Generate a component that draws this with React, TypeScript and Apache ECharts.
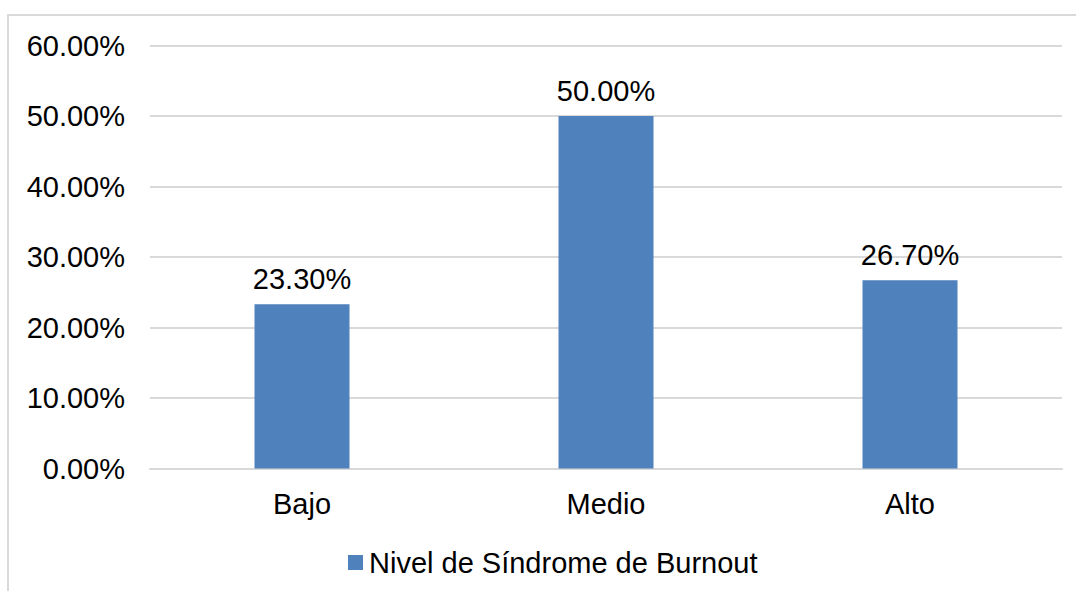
import React, { useEffect, useRef } from "react";
import * as echarts from "echarts";

const categories = ["Bajo", "Medio", "Alto"];
const values = [23.3, 50.0, 26.7];
const seriesName = "Nivel de Síndrome de Burnout";

const FONT = "'Liberation Sans', Arial, sans-serif";
const FONT_SIZE = 29;

export default function App() {
  const ref = useRef<HTMLDivElement>(null);

  useEffect(() => {
    document.body.style.margin = "0";
    if (!ref.current) return;
    const chart = echarts.init(ref.current, undefined, { renderer: "svg" });
    chart.setOption({
      animation: false,
      backgroundColor: "#ffffff",
      textStyle: { fontFamily: FONT },
      graphic: [
        {
          type: "rect",
          shape: { x: 8, y: 15, width: 1100, height: 600 },
          style: { fill: "none", stroke: "#d9d9d9", lineWidth: 2 },
          silent: true,
        },
      ],
      grid: { left: 150, right: 14, top: 45.5, bottom: 122.5, containLabel: false },
      legend: {
        data: [seriesName],
        left: 343,
        top: 543,
        icon: "rect",
        itemWidth: 15,
        itemHeight: 15,
        itemGap: 5,
        textStyle: { fontFamily: FONT, fontSize: FONT_SIZE, color: "#000", padding: [0, 0, 0, 1] },
      },
      xAxis: {
        type: "category",
        data: categories,
        axisLine: { lineStyle: { color: "#d9d9d9", width: 2 } },
        axisTick: { show: false },
        axisLabel: { fontFamily: FONT, fontSize: FONT_SIZE, color: "#000", margin: 21 },
      },
      yAxis: {
        type: "value",
        min: 0,
        max: 60,
        interval: 10,
        axisLine: { show: false },
        axisTick: { show: false },
        splitLine: { lineStyle: { color: "#d9d9d9", width: 2 } },
        axisLabel: {
          fontFamily: FONT,
          fontSize: FONT_SIZE,
          color: "#000",
          margin: 25,
          formatter: (v: number) => v.toFixed(2) + "%",
        },
      },
      series: [
        {
          name: seriesName,
          type: "bar",
          data: values,
          barWidth: 95,
          itemStyle: { color: "#4f81bd" },
          label: {
            show: true,
            position: "top",
            distance: 11,
            fontFamily: FONT,
            fontSize: FONT_SIZE,
            color: "#000",
            formatter: (p: any) => Number(p.value).toFixed(2) + "%",
          },
        },
      ],
    });
    return () => chart.dispose();
  }, []);

  return <div ref={ref} style={{ width: 1076, height: 591 }} />;
}
